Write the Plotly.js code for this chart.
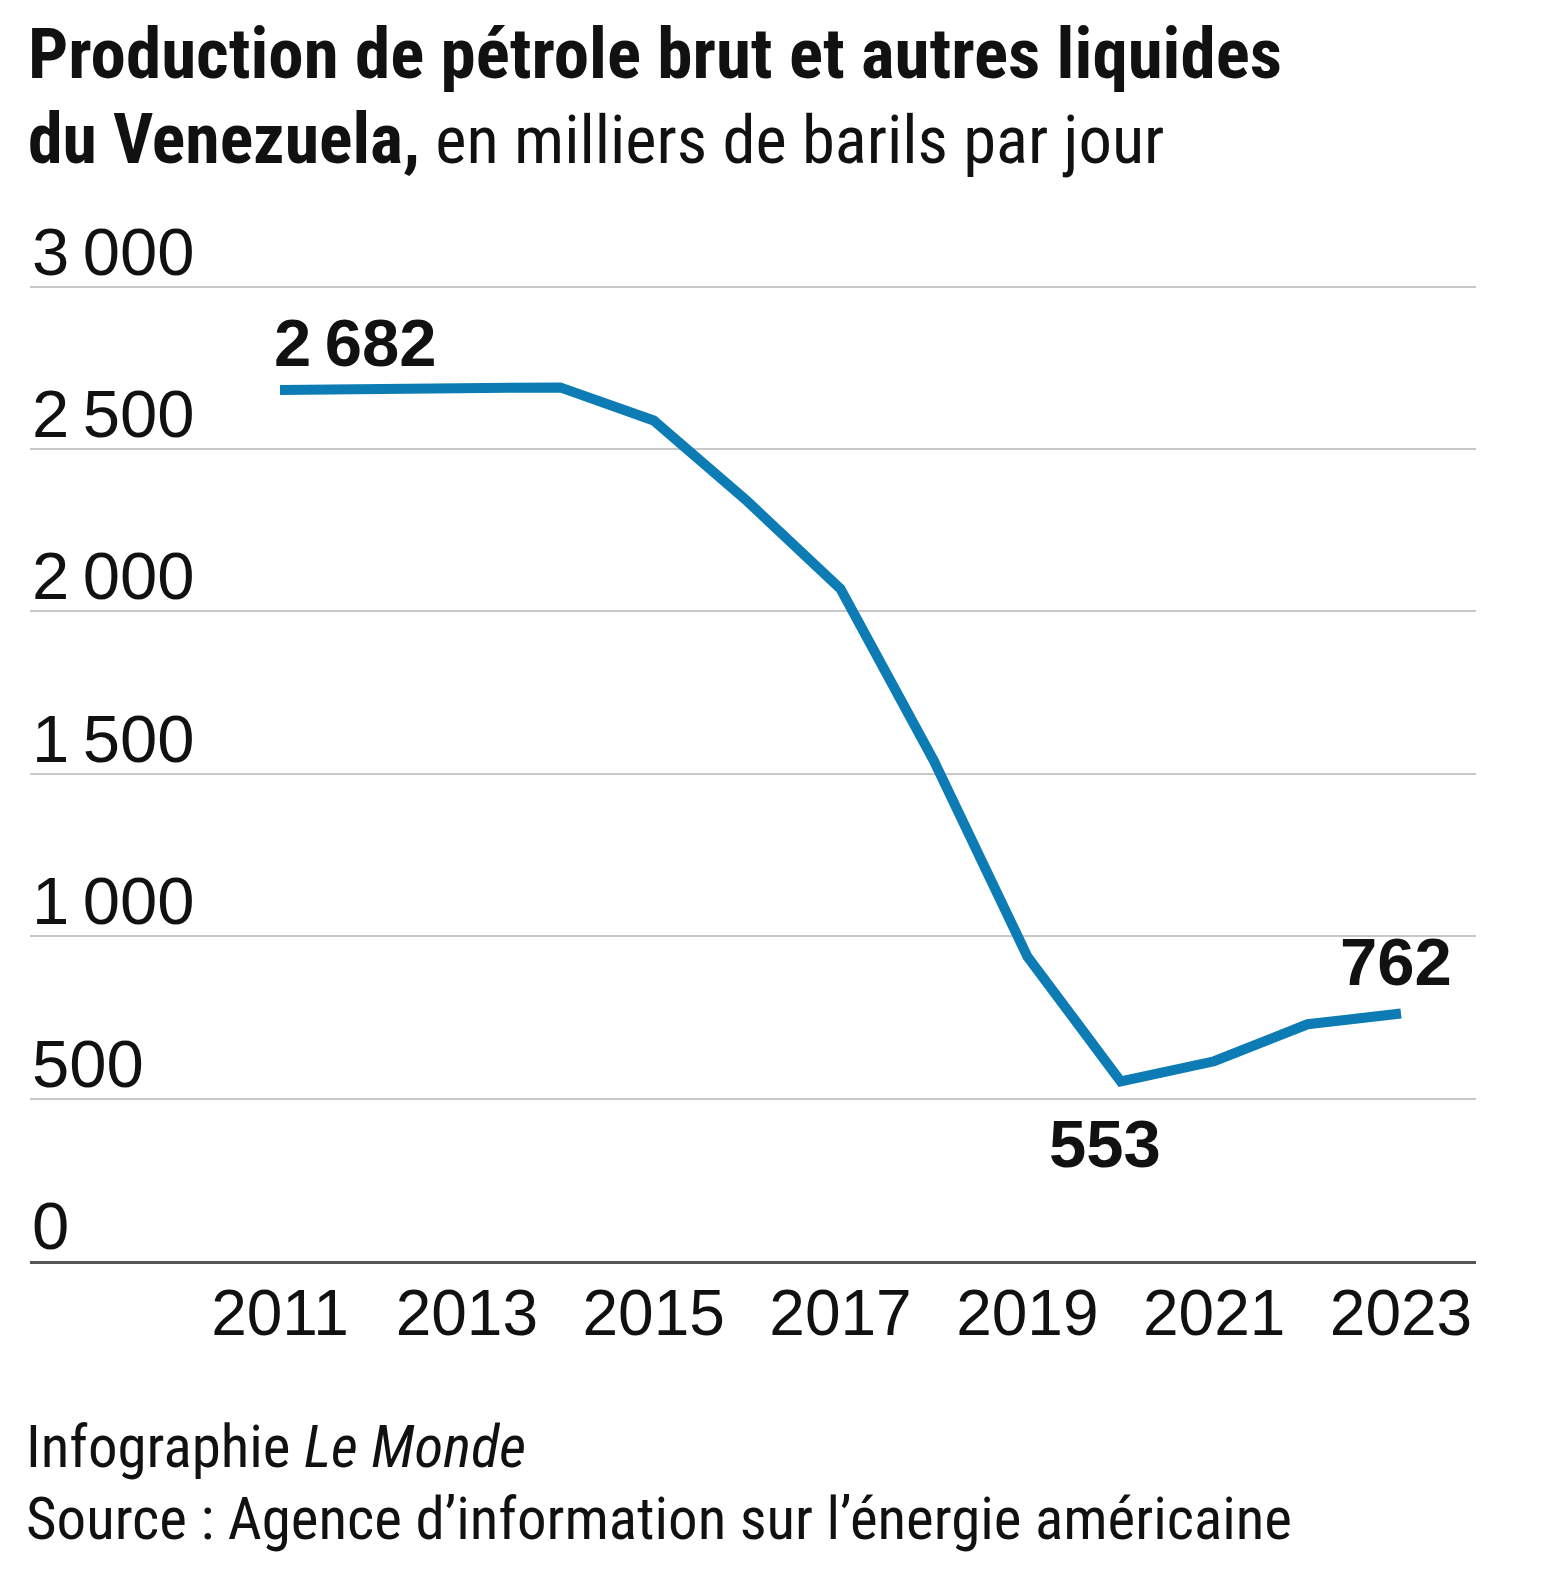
<!DOCTYPE html>
<html>
<head>
<meta charset="utf-8">
<script src="https://cdn.plot.ly/plotly-3.0.1.min.js"></script>
<style>
  html, body { margin: 0; padding: 0; background: #ffffff; }
  #chart { width: 1546px; height: 1580px; }
</style>
</head>
<body>
<div id="chart"></div>
<script>
// ---- Data ----
const years = [2011, 2012, 2013, 2014, 2015, 2016, 2017, 2018, 2019, 2020, 2021, 2022, 2023];
const production = [2682, 2686, 2687, 2690, 2588, 2340, 2070, 1540, 938, 553, 615, 729, 762];
const yTickValues = [0, 500, 1000, 1500, 2000, 2500, 3000];
const yTickLabels = ["0", "500", "1\u2009000", "1\u2009500", "2\u2009000", "2\u2009500", "3\u2009000"];
const xTickValues = [2011, 2013, 2015, 2017, 2019, 2021, 2023];
const xTickLabels = ["2011", "2013", "2015", "2017", "2019", "2021", "2023"];
const labelledYears = [2011, 2020, 2023];
const labelledTexts = ["2\u2009682", "553", "762"];

const titleLine1 = "Production de pétrole brut et autres liquides";
const titleLine2Bold = "du Venezuela,";
const titleLine2Rest = " en milliers de barils par jour";
const creditText = "Infographie <i>Le Monde</i>";
const sourceText = "Source : Agence d\u2019information sur l\u2019énergie américaine";

// ---- Font helpers ----
const ctx = document.createElement('canvas').getContext('2d');
function hasFont(f) {
  const s = 'abcdefghijklmnopqrstuvwxyzABCDEFGHIJKLM0123456789';
  ctx.font = '72px monospace'; const a = ctx.measureText(s).width;
  ctx.font = '72px "' + f + '", monospace'; const b = ctx.measureText(s).width;
  ctx.font = '72px serif'; const a2 = ctx.measureText(s).width;
  ctx.font = '72px "' + f + '", serif'; const b2 = ctx.measureText(s).width;
  return (a !== b) || (a2 !== b2);
}
const condCandidates = ["Roboto Condensed", "Liberation Sans Narrow", "DejaVu Sans Condensed", "Arial Narrow"];
let condFamily = "Roboto";
for (const f of condCandidates) { if (hasFont(f)) { condFamily = f; break; } }
function textWidth(txt, family, weight) {
  ctx.font = (weight || 'normal') + ' 100px "' + family + '"';
  return ctx.measureText(txt.replace(/<[^>]+>/g, '')).width;
}
function fitSize(txt, family, weight, target) {
  return 100 * target / textWidth(txt, family, weight);
}
const titleSize = Math.min(71, fitSize(titleLine1, condFamily, 'bold', 1280));
const line2BoldSize = Math.min(71, fitSize(titleLine2Bold, condFamily, 'bold', 392));
const line2RestSize = Math.min(71, fitSize(titleLine2Rest, condFamily, 'normal', 745));
const sourceSize = Math.min(60, fitSize(sourceText, condFamily, 'normal', 1266));

const numFamily = "Liberation Sans, Arial, sans-serif";
const textColor = "#111111";
const lineColor = "#0d7cb4";

// ---- Geometry helpers (pixel -> paper) ----
const W = 1546, H = 1580;
const margin = { l: 30, r: 70, t: 238, b: 319 };
const plotH = H - margin.t - margin.b;
const plotW = W - margin.l - margin.r;
const py = p => (H - margin.b - p) / plotH;
const px = p => (p - margin.l) / plotW;

const annotations = [];

// Title lines
annotations.push({
  xref: 'paper', yref: 'paper', x: px(26), y: py(54), xanchor: 'left', yanchor: 'middle',
  text: '<b>' + titleLine1 + '</b>', showarrow: false,
  font: { family: condFamily, size: titleSize, color: textColor }
});
annotations.push({
  xref: 'paper', yref: 'paper', x: px(26), y: py(139), xanchor: 'left', yanchor: 'middle',
  text: '<b>' + titleLine2Bold + '</b><span style="font-size:' + line2RestSize.toFixed(1) + 'px">' + titleLine2Rest + '</span>',
  showarrow: false,
  font: { family: condFamily, size: line2BoldSize, color: textColor }
});

// Y tick labels above gridlines
yTickValues.forEach((v, i) => {
  annotations.push({
    xref: 'paper', yref: 'y', x: 0, y: v, xanchor: 'left', yanchor: 'bottom', yshift: -4,
    text: yTickLabels[i], showarrow: false,
    font: { family: numFamily, size: 67, color: textColor }
  });
});

// Value labels
const labelShifts = { 2011: { xa: 'left', xs: -8, ys: 47 }, 2020: { xa: 'center', xs: -16, ys: -62 }, 2023: { xa: 'center', xs: -5, ys: 52 } };
labelledYears.forEach((yr, i) => {
  const s = labelShifts[yr];
  annotations.push({
    xref: 'x', yref: 'y', x: yr, y: production[years.indexOf(yr)],
    xanchor: s.xa, yanchor: 'middle', xshift: s.xs, yshift: s.ys,
    text: '<b>' + labelledTexts[i] + '</b>', showarrow: false,
    font: { family: numFamily, size: 67, color: textColor }
  });
});

// Footer
annotations.push({
  xref: 'paper', yref: 'paper', x: px(24), y: py(1446), xanchor: 'left', yanchor: 'middle',
  text: creditText, showarrow: false,
  font: { family: condFamily, size: sourceSize, color: textColor }
});
annotations.push({
  xref: 'paper', yref: 'paper', x: px(24), y: py(1518), xanchor: 'left', yanchor: 'middle',
  text: sourceText, showarrow: false,
  font: { family: condFamily, size: sourceSize, color: textColor }
});

const trace = {
  x: years, y: production, type: 'scatter', mode: 'lines',
  line: { color: lineColor, width: 10, shape: 'linear' },
  hoverinfo: 'skip'
};

const layout = {
  width: W, height: H,
  margin: margin,
  paper_bgcolor: '#ffffff', plot_bgcolor: '#ffffff',
  showlegend: false,
  xaxis: {
    range: [2008.324, 2023.803],
    tickmode: 'array', tickvals: xTickValues, ticktext: xTickLabels,
    ticks: '', showgrid: false, zeroline: false,
    showline: true, linecolor: '#555555', linewidth: 2.5,
    tickfont: { family: numFamily, size: 64, color: textColor },
    ticklabelstandoff: -5,
    fixedrange: true
  },
  yaxis: {
    range: [0, 3150],
    tickmode: 'array', tickvals: yTickValues.slice(1),
    showticklabels: false, ticks: '',
    showgrid: true, gridcolor: '#c8c8c8', gridwidth: 2,
    zeroline: false, showline: false,
    fixedrange: true
  },
  annotations: annotations
};

Plotly.newPlot('chart', [trace], layout, { displayModeBar: false, staticPlot: true });
</script>
</body>
</html>
